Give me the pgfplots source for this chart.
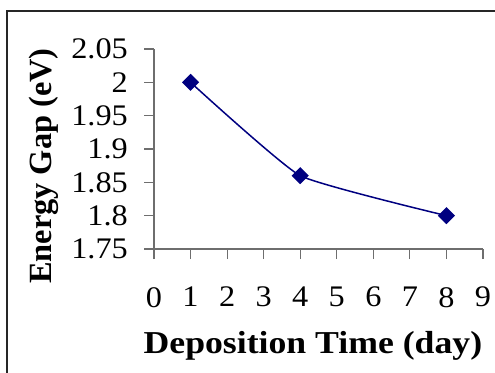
\documentclass[border=0pt]{standalone}
\usepackage{fontspec}
\setmainfont{Liberation Serif}[FakeStretch=1.08]
\newfontfamily\xtitlefont{Liberation Serif}[FakeStretch=1.12]
\newfontfamily\ytitlefont{Liberation Serif}
\usepackage{pgfplots}
\pgfplotsset{compat=1.18}
\definecolor{navyline}{RGB}{0,0,128}
\definecolor{axisgray}{RGB}{110,110,110}

\begin{document}
\begin{tikzpicture}[x=1bp,y=1bp]
\begin{axis}[
  at={(154bp,123bp)}, anchor=south west,
  scale only axis, width=329bp, height=200bp,
  xmin=0, xmax=9, ymin=1.75, ymax=2.05,
  axis x line*=bottom, axis y line*=left,
  axis line style={axisgray, line width=1.1bp},
  xtick={0,1,2,3,4,5,6,7,8,9},
  ytick={1.75,1.8,1.85,1.9,1.95,2,2.05},
  yticklabels={1.75,1.8,1.85,1.9,1.95,2,2.05},
  tick align=outside, major tick length=10bp,
  tick style={axisgray, line width=1.1bp},
  /pgf/number format/assume math mode=true,
  ticklabel style={font=\fontsize{30}{34}\selectfont, inner sep=0pt},
  xticklabel style={anchor=north, yshift=-28bp},
  yticklabel style={anchor=east, xshift=-16bp},
  xlabel={\xtitlefont\bfseries Deposition Time (day)},
  xlabel style={at={(axis description cs:0.483,-0.52)}, anchor=base,
    font=\fontsize{32}{36}\selectfont, inner sep=0pt},
  ylabel={\ytitlefont\bfseries Energy Gap (eV)},
  ylabel style={at={(axis description cs:-0.312,0.415)}, anchor=base, rotate=0,
    font=\fontsize{32.5}{36}\selectfont, inner sep=0pt},
]
\addplot[navyline, line width=1.5bp, smooth, tension=0.25,
  mark=square*, mark size=5.3bp,
  mark options={rotate=45, solid, fill=navyline}]
  coordinates {(1,2.00) (4,1.86) (8,1.80)};
\end{axis}
% outer chart frame (runs past the right and bottom edges)
\draw[black!85, line width=1.3bp] (7,-20) -- (7,361) -- (520,361);
\pgfresetboundingbox
\path[use as bounding box] (0,0) rectangle (495,372);
\end{tikzpicture}
\end{document}
